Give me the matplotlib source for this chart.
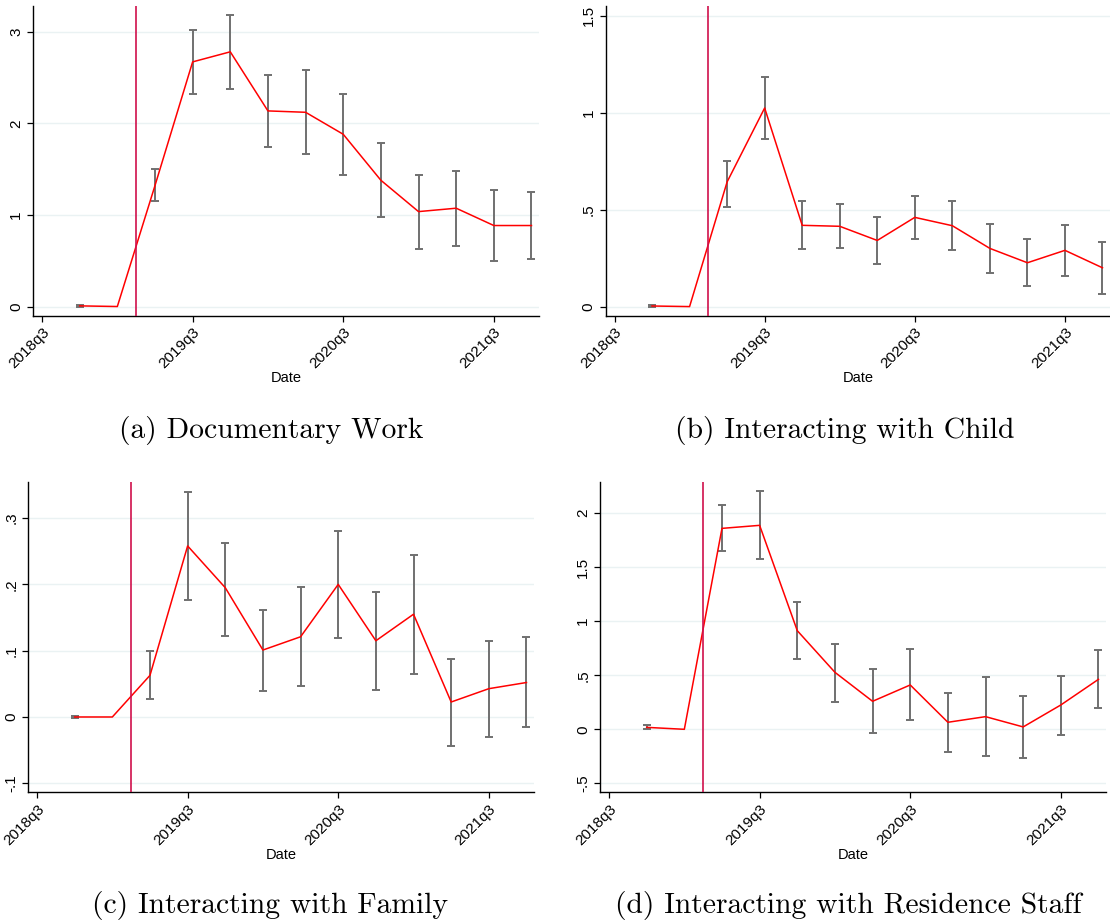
import numpy as np
import matplotlib.pyplot as plt

quarters = ['2018q4', '2019q1', '2019q2', '2019q3', '2019q4', '2020q1', '2020q2',
            '2020q3', '2020q4', '2021q1', '2021q2', '2021q3', '2021q4']
tick_labels = ['2018q3', '2019q3', '2020q3', '2021q3']
event_quarter = 2.5  # between 2019q1 and 2019q2, in quarters after 2018q3

doc_coef = [0.007, 0.0, 1.32, 2.67, 2.78, 2.135, 2.12, 1.88, 1.378, 1.036, 1.073, 0.884, 0.884]
doc_lo = [-0.006, np.nan, 1.149, 2.324, 2.378, 1.742, 1.662, 1.44, 0.975, 0.633, 0.665, 0.498, 0.516]
doc_hi = [0.022, np.nan, 1.498, 3.015, 3.178, 2.527, 2.578, 2.316, 1.785, 1.44, 1.484, 1.269, 1.247]

child_coef = [0.003, 0.0, 0.643, 1.024, 0.419, 0.414, 0.341, 0.46, 0.417, 0.30, 0.226, 0.29, 0.20]
child_lo = [-0.003, np.nan, 0.516, 0.866, 0.295, 0.30, 0.22, 0.346, 0.292, 0.173, 0.105, 0.16, 0.067]
child_hi = [0.009, np.nan, 0.751, 1.182, 0.546, 0.53, 0.46, 0.571, 0.542, 0.425, 0.348, 0.422, 0.333]

fam_coef = [0.0, 0.0, 0.0628, 0.258, 0.195, 0.101, 0.121, 0.20, 0.115, 0.155, 0.0226, 0.0427, 0.052]
fam_lo = [-0.0008, np.nan, 0.0276, 0.176, 0.1226, 0.039, 0.046, 0.119, 0.040, 0.065, -0.0437, -0.030, -0.0156]
fam_hi = [0.0008, np.nan, 0.099, 0.340, 0.263, 0.161, 0.196, 0.281, 0.188, 0.244, 0.088, 0.115, 0.121]

staff_coef = [0.018, 0.0, 1.858, 1.886, 0.912, 0.527, 0.259, 0.41, 0.065, 0.117, 0.022, 0.225, 0.462]
staff_lo = [0.003, np.nan, 1.646, 1.578, 0.647, 0.256, -0.037, 0.086, -0.213, -0.247, -0.268, -0.055, 0.194]
staff_hi = [0.037, np.nan, 2.074, 2.20, 1.18, 0.789, 0.555, 0.74, 0.339, 0.481, 0.308, 0.493, 0.73]


def q_index(q):
    # quarters after 2018q3
    return (int(q[:4]) - 2018) * 4 + int(q[-1]) - 3


x = np.array([q_index(q) for q in quarters])
xticks = [q_index(q) for q in tick_labels]

W, H = 1110, 924
fig = plt.figure(figsize=(W / 100, H / 100), dpi=100)
plt.rcParams['font.family'] = ['Liberation Sans', 'DejaVu Sans']

panels = [
    # left, right, top, bottom (pixels), data, ylim, yticks, ylabels, caption, caption pos
    ((33, 539, 6, 315.5), (doc_coef, doc_lo, doc_hi), (-0.098, 3.28),
     [0, 1, 2, 3], ['0', '1', '2', '3'], '(a) Documentary Work', (271, 430)),
    ((605.5, 1110, 6, 315.5), (child_coef, child_lo, child_hi), (-0.046, 1.55),
     [0, 0.5, 1, 1.5], ['0', '.5', '1', '1.5'], '(b) Interacting with Child', (845, 430)),
    ((28, 534, 482.3, 792.3), (fam_coef, fam_lo, fam_hi), (-0.1136, 0.354),
     [-0.1, 0, 0.1, 0.2, 0.3], ['-.1', '0', '.1', '.2', '.3'], '(c) Interacting with Family', (270, 905)),
    ((600, 1106, 482.3, 792.3), (staff_coef, staff_lo, staff_hi), (-0.5825, 2.284),
     [-0.5, 0, 0.5, 1, 1.5, 2], ['-.5', '0', '.5', '1', '1.5', '2'],
     '(d) Interacting with Residence Staff', (848, 905)),
]

for (l, r, t, b), (coef, lo, hi), ylim, yt, ytl, caption, (cx, cy) in panels:
    ax = fig.add_axes([l / W, 1 - b / H, (r - l) / W, (b - t) / H])
    coef = np.array(coef)
    lo = np.array(lo)
    hi = np.array(hi)
    for yv in yt:
        ax.axhline(yv, color='#eaf2f3', lw=1.0, zorder=0)
    ok = ~np.isnan(lo)
    ax.errorbar(x[ok], coef[ok], yerr=[coef[ok] - lo[ok], hi[ok] - coef[ok]],
                fmt='none', ecolor='#707070', elinewidth=1.4, capsize=2.8,
                capthick=1.4, zorder=2)
    ax.plot(x, coef, color='#ff0000', lw=1.1, zorder=3)
    ax.axvline(event_quarter, color='#d0104c', lw=1.2, zorder=4)

    ax.set_xlim(-0.24, 13.2)
    ax.set_ylim(*ylim)
    ax.set_xticks(xticks)
    ax.set_xticklabels(tick_labels, rotation=45, ha='right', rotation_mode='anchor',
                       fontsize=11)
    ax.set_yticks(yt)
    ax.set_yticklabels(ytl, rotation=90, va='center', fontsize=11)
    ax.tick_params(direction='out', length=4, width=0.9, colors='black', pad=3)
    ax.set_xlabel('Date', fontsize=10.5, labelpad=0)
    for s in ['top', 'right']:
        ax.spines[s].set_visible(False)
    for s in ['left', 'bottom']:
        ax.spines[s].set_linewidth(1.0)

    fig.text(cx / W, 1 - cy / H, caption, family='cmr10', fontsize=21.3,
             ha='center', va='center')

fig.savefig('out.png', dpi=100)
